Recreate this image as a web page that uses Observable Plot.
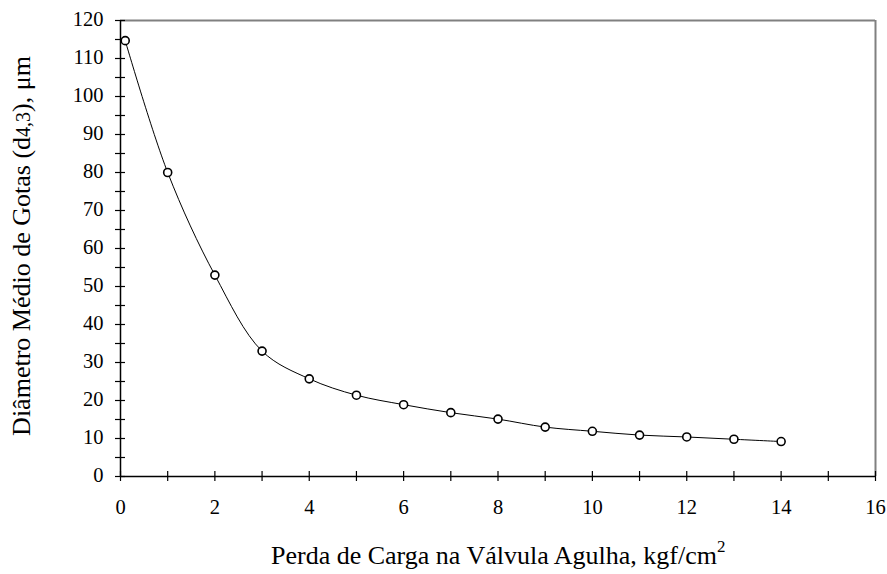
<!DOCTYPE html>
<html>
<head>
<meta charset="utf-8">
<script src="https://cdn.jsdelivr.net/npm/d3@7"></script>
<script src="https://cdn.jsdelivr.net/npm/@observablehq/plot@0.6"></script>
<style>
  body { margin: 0; background: #fff; }
  #chart svg { display: block; }
</style>
</head>
<body>
<div id="chart"></div>
<script>
// Data
const pressure = [0.1, 1, 2, 3, 4, 5, 6, 7, 8, 9, 10, 11, 12, 13, 14];
const diameter = [114.7, 80.0, 53.0, 33.0, 25.7, 21.4, 18.9, 16.8, 15.1, 13.0, 11.9, 10.9, 10.4, 9.8, 9.2];
const xMajorTicks = [0, 2, 4, 6, 8, 10, 12, 14, 16];
const xAllTicks = [0, 1, 2, 3, 4, 5, 6, 7, 8, 9, 10, 11, 12, 13, 14, 15, 16];
const yMajorTicks = [0, 10, 20, 30, 40, 50, 60, 70, 80, 90, 100, 110, 120];
const yAllTicks = [0, 5, 10, 15, 20, 25, 30, 35, 40, 45, 50, 55, 60, 65, 70, 75, 80, 85, 90, 95, 100, 105, 110, 115, 120];

const data = pressure.map((p, i) => ({x: p, y: diameter[i]}));
const serif = "'Liberation Serif', 'Times New Roman', serif";

const plot = Plot.plot({
  width: 887,
  height: 574,
  marginLeft: 120,
  marginRight: 12,
  marginTop: 20,
  marginBottom: 98,
  style: {fontFamily: serif, color: "#000", background: "#fff"},
  x: {domain: [0, 16], axis: null},
  y: {domain: [0, 120], axis: null},
  marks: [
    // frame top & right (gray)
    Plot.ruleY([120], {stroke: "#808080", strokeWidth: 2}),
    Plot.ruleX([16], {stroke: "#808080", strokeWidth: 2}),
    // axes (black)
    Plot.ruleY([0], {stroke: "#000", strokeWidth: 1.5}),
    Plot.ruleX([0], {stroke: "#000", strokeWidth: 1.5}),
    // x ticks crossing axis
    Plot.ruleX(xAllTicks, {x: d => d, y1: 0, y2: 0, insetTop: -5, insetBottom: -5, stroke: "#000", strokeWidth: 1.2}),
    // y ticks crossing axis
    Plot.ruleY(yAllTicks, {y: d => d, x1: 0, x2: 0, insetLeft: -5, insetRight: -5, stroke: "#000", strokeWidth: 1.2}),
    // tick labels
    Plot.text(xMajorTicks, {x: d => d, y: 0, text: d => String(d), dy: 31, fontSize: 20.5, fontFamily: serif, fill: "#000"}),
    Plot.text(yMajorTicks, {x: 0, y: d => d, text: d => String(d), dx: -17, dy: -1.5, textAnchor: "end", fontSize: 20.5, fontFamily: serif, fill: "#000"}),
    Plot.line(data, {x: "x", y: "y", curve: "catmull-rom", stroke: "#000", strokeWidth: 1}),
    Plot.dot(data, {x: "x", y: "y", r: 4, fill: "#fff", stroke: "#000", strokeWidth: 1.6})
  ]
});

const svg = d3.select(plot);
// x title
const xt = svg.append("text")
  .attr("x", 271).attr("y", 564)
  .attr("text-anchor", "start")
  .attr("font-size", 26)
  .attr("font-family", serif)
  .attr("fill", "#000");
xt.append("tspan").text("Perda de Carga na Válvula Agulha, kgf/cm");
xt.append("tspan").attr("dy", -12).attr("font-size", 17).text("2");

// y title
const yt = svg.append("text")
  .attr("transform", "translate(30,246) rotate(-90)")
  .attr("text-anchor", "middle")
  .attr("font-size", 26)
  .attr("font-family", serif)
  .attr("fill", "#000");
yt.append("tspan").text("Diâmetro Médio de Gotas (d");
yt.append("tspan").attr("font-size", 20).text("4,3");
yt.append("tspan").text("), μm");

document.getElementById("chart").appendChild(plot);
</script>
</body>
</html>
